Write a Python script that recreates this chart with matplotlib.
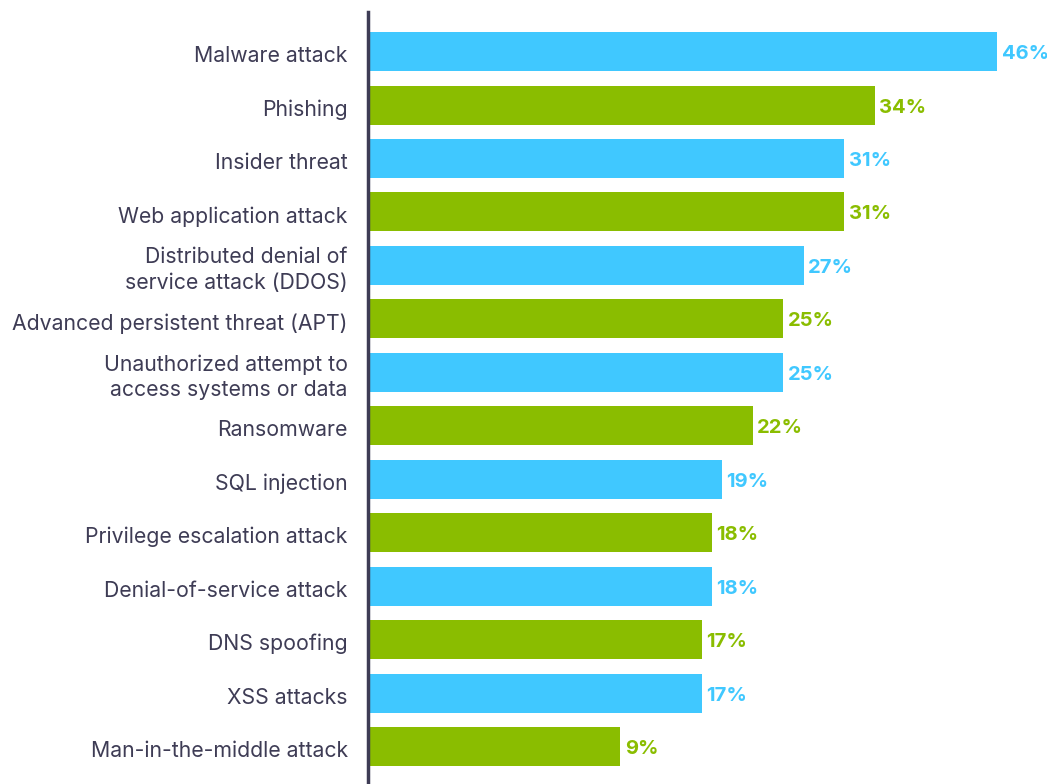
import matplotlib
matplotlib.use("Agg")
import matplotlib.pyplot as plt
from matplotlib.transforms import ScaledTranslation

categories = [
    "Malware attack",
    "Phishing",
    "Insider threat",
    "Web application attack",
    "Distributed denial of\nservice attack (DDOS)",
    "Advanced persistent threat (APT)",
    "Unauthorized attempt to\naccess systems or data",
    "Ransomware",
    "SQL injection",
    "Privilege escalation attack",
    "Denial-of-service attack",
    "DNS spoofing",
    "XSS attacks",
    "Man-in-the-middle attack",
]
values = [46, 34, 31, 31, 27, 25, 25, 22, 19, 18, 18, 17, 17, 9]

BLUE = "#40C8FF"
GREEN = "#8ABD00"
TEXT = "#3E3C55"
AXIS_START = -15.75

plt.rcParams["font.family"] = ["Inter", "DejaVu Sans"]

fig = plt.figure(figsize=(10.47, 7.84), dpi=100)
ax = fig.add_axes([368 / 1047, 0, 1 - 368 / 1047, 1 - 12 / 784])

colors = [BLUE if i % 2 == 0 else GREEN for i in range(len(values))]
ypos = list(range(len(values)))
ax.barh(ypos, [v - AXIS_START for v in values], left=AXIS_START,
        height=0.73, color=colors, zorder=2)

shift_down = ScaledTranslation(0, -2.5 / 100, fig.dpi_scale_trans)

for y, v, c in zip(ypos, values, colors):
    ax.text(v + 0.45, y, f"{v}%", va="center", ha="left",
            fontsize=14.5, fontweight="bold", color=c,
            transform=ax.transData + shift_down, clip_on=False)

ax.set_xlim(AXIS_START, 50.9)
ax.set_ylim(13.70, -0.74)
ax.set_yticks(ypos)
ax.set_yticklabels(categories, fontsize=15.3, color=TEXT, linespacing=1.33)
ax.tick_params(axis="y", length=0, pad=14.5)
for lbl in ax.get_yticklabels():
    if "\n" not in lbl.get_text():
        lbl.set_transform(lbl.get_transform() + shift_down)
ax.set_xticks([])

for side in ("top", "right", "bottom"):
    ax.spines[side].set_visible(False)
ax.spines["left"].set_color(TEXT)
ax.spines["left"].set_linewidth(2.5)

fig.savefig("out.png", dpi=100)
